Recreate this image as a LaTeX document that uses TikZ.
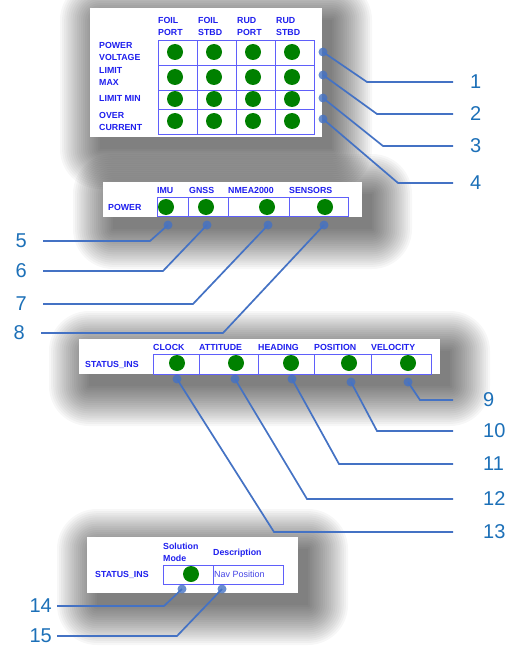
\documentclass[tikz,border=0pt]{standalone}
\usepackage{fontspec}
\setmainfont{Liberation Sans}
\definecolor{hdr}{RGB}{30,30,238}
\definecolor{gridc}{RGB}{95,95,250}
\definecolor{led}{RGB}{0,128,0}
\definecolor{wirec}{RGB}{68,114,196}
\definecolor{numc}{RGB}{28,112,184}
\definecolor{descc}{RGB}{70,70,230}

\tikzset{
  hdr/.style={font=\bfseries\fontsize{8.8}{10}\selectfont, text=hdr, inner sep=0, anchor=base west},
  desc/.style={font=\fontsize{9}{10}\selectfont, text=descc, inner sep=0, anchor=base west},
  ledon/.style={circle, fill=led, minimum size=16pt, inner sep=0},
  cellgrid/.style={draw=gridc, line width=0.9pt},
  pin/.style={circle, fill=wirec, minimum size=9pt, inner sep=0, fill opacity=.8},
  wire/.style={draw=wirec, line width=1.7pt},
  num/.style={text=numc, font=\fontsize{20}{22}\selectfont, inner sep=0},
  panelbox/.style={fill=white}
}

% soft drop shadow behind a panel given by its corners
\newcommand\softshadow[4]{%
  \foreach \k in {0,...,19}{%
    \pgfmathsetmacro\s{40-2.1*\k}
    \fill[black, opacity=0.03, rounded corners=\s pt]
      (#1+10-\s, #2+12-\s) rectangle (#3+10+\s, #4+12+\s);
  }%
}

\begin{document}
\begin{tikzpicture}[x=1pt, y=-1pt]
\useasboundingbox (0,0) rectangle (510,650);
\fill[white] (0,0) rectangle (510,650);

% shadows
\softshadow{90}{8}{322}{137}
\softshadow{103}{182}{362}{217}
\softshadow{79}{339}{440}{374}
\softshadow{87}{537}{298}{593}

% panels
\fill[panelbox] (90,8) rectangle (322,137);
\fill[panelbox] (103,182) rectangle (362,217);
\fill[panelbox] (79,339) rectangle (440,374);
\fill[panelbox] (87,537) rectangle (298,593);

% ---------- panel 1: foil / rudder power ----------
\node[hdr] (h1a) at (158,24) {FOIL};  \node[hdr] (h1b) at (158,36) {PORT};
\node[hdr] (h1c) at (198,24) {FOIL};  \node[hdr] (h1d) at (198,36) {STBD};
\node[hdr] (h1e) at (237,24) {RUD};   \node[hdr] (h1f) at (237,36) {PORT};
\node[hdr] (h1g) at (276,24) {RUD};   \node[hdr] (h1h) at (276,36) {STBD};
\node[hdr] (r1a) at (99,49)  {POWER};
\node[hdr] (r1b) at (99,61)  {VOLTAGE};
\node[hdr] (r1c) at (99,74)  {LIMIT};
\node[hdr] (r1d) at (99,86)  {MAX};
\node[hdr] (r1e) at (99,102) {LIMIT MIN};
\node[hdr] (r1f) at (99,118) {OVER};
\node[hdr] (r1g) at (99,130) {CURRENT};
\foreach \xa/\xb in {158/197,197/236,236/275,275/314}
  \foreach \ya/\yb in {40/65,65/90,90/109,109/134}
    \draw[cellgrid] (\xa,\ya) rectangle (\xb,\yb);
\foreach \x [count=\i] in {175,214,253,292}
  \foreach \y [count=\j] in {52,77,99,121}
    \node[ledon] (la\i\j) at (\x,\y) {};

% ---------- panel 2: power ----------
\node[hdr] (h2a) at (157,193) {IMU};
\node[hdr] (h2b) at (189,193) {GNSS};
\node[hdr] (h2c) at (228,193) {NMEA2000};
\node[hdr] (h2d) at (289,193) {SENSORS};
\node[hdr] (r2a) at (108,210) {POWER};
\foreach \xa/\xb in {157/188,188/228,228/289,289/348}
  \draw[cellgrid] (\xa,197) rectangle (\xb,216);
\foreach \x [count=\i] in {166,206,267,325}
  \node[ledon] (lb\i) at (\x,207) {};

% ---------- panel 3: INS status ----------
\node[hdr] (h3a) at (153,350) {CLOCK};
\node[hdr] (h3b) at (199,350) {ATTITUDE};
\node[hdr] (h3c) at (258,350) {HEADING};
\node[hdr] (h3d) at (314,350) {POSITION};
\node[hdr] (h3e) at (371,350) {VELOCITY};
\node[hdr] (r3a) at (85,367) {STATUS\_INS};
\foreach \xa/\xb in {153/199,199/258,258/314,314/371,371/431}
  \draw[cellgrid] (\xa,354) rectangle (\xb,374);
\foreach \x [count=\i] in {177,236,291,349,408}
  \node[ledon] (lc\i) at (\x,363) {};

% ---------- panel 4: INS solution ----------
\node[hdr] (h4a) at (163,549) {Solution};
\node[hdr] (h4b) at (163,561) {Mode};
\node[hdr] (h4c) at (213,555) {Description};
\node[hdr] (r4a) at (95,577) {STATUS\_INS};
\draw[cellgrid] (163,565) rectangle (213,584);
\draw[cellgrid] (213,565) rectangle (283,584);
\node[ledon] (ld1) at (191,574) {};
\node[desc] (d4) at (214,577) {Nav Position};

% ---------- callout pins ----------
\foreach \n/\x/\y in {1/323/52,2/323/75,3/323/98,4/323/119,
                      5/168/225,6/207/225,7/268/225,8/324/225,
                      9/408/382,10/351/382,11/292/379,12/235/379,13/177/379,
                      14/182/589,15/222/589}
  \coordinate (p\n) at (\x,\y);

\foreach \n/\x/\y in {1/367/82,2/377/114,3/383/146,4/398/183,
                      5/150/241,6/163/271,7/193/304,8/223/333,
                      9/420/400,10/377/431,11/339/464,12/307/499,13/274/532,
                      14/164/606,15/177/636}
  \coordinate (c\n) at (\x,\y);

\foreach \n/\x in {1/453,2/453,3/453,4/453,5/43,6/43,7/43,8/41,
                   9/453,10/453,11/453,12/453,13/453,14/57,15/57}
  \coordinate (e\n) at (\x,0 |- c\n);

\foreach \n in {1,...,15}
  \draw[wire] (p\n) -- (c\n) -- (e\n);

\foreach \n in {1,...,15}
  \node[pin] (q\n) at (p\n) {};

% ---------- callout numbers ----------
\foreach \n in {1,...,4}   \node[num, anchor=west] (n\n) at ([xshift=17pt]e\n) {\n};
\foreach \n in {5,...,8}   \node[num, anchor=east] (n\n) at ([xshift=-16pt]e\n) {\n};
\foreach \n in {9,...,13}  \node[num, anchor=west] (n\n) at ([xshift=30pt]e\n) {\n};
\foreach \n in {14,15}     \node[num, anchor=east] (n\n) at ([xshift=-5pt]e\n) {\n};
\end{tikzpicture}
\end{document}
